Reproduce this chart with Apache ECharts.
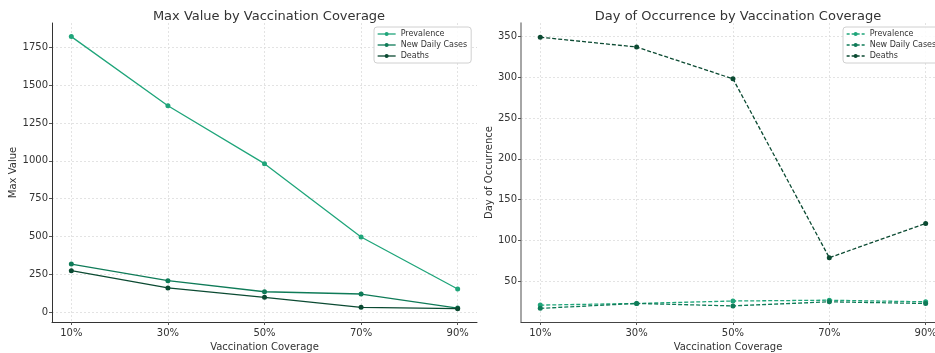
<!DOCTYPE html>
<html>
<head>
<meta charset="utf-8">
<script src="https://cdn.jsdelivr.net/npm/echarts@6/dist/echarts.min.js"></script>
<style>
html,body{margin:0;padding:0;background:#fff;}
#c{width:935px;height:353px;}
</style>
</head>
<body>
<div id="c"></div>
<script>
const categories = ['10%', '30%', '50%', '70%', '90%'];
const maxPrevalence = [1821, 1364, 981, 496, 152];
const maxNewCases = [317, 207, 134, 119, 26];
const maxDeaths = [273, 159, 97, 31, 22];
const dayPrevalence = [21, 23, 26, 27, 25];
const dayNewCases = [17, 23, 20, 25, 23];
const dayDeaths = [349, 337, 298, 79, 121];
const maxTicks = [0, 250, 500, 750, 1000, 1250, 1500, 1750];
const dayTicks = [50, 100, 150, 200, 250, 300, 350];
const seriesNames = ['Prevalence', 'New Daily Cases', 'Deaths'];

const colors = ['#1fa57a', '#0f7b58', '#0b4a32'];
const FONT = 'DejaVu Sans';
const catIdx = categories.map((_, i) => i);

function pairs(arr) { return arr.map((v, i) => [i, v]); }

function xAxis(gridIndex, lineColor, max) {
  return {
    type: 'value', gridIndex, min: -0.2, max,
    name: 'Vaccination Coverage', nameLocation: 'middle', nameGap: 19,
    nameTextStyle: { fontFamily: FONT, fontSize: 10, color: '#333' },
    axisLine: { show: true, onZero: false, lineStyle: { color: lineColor, width: 1 } },
    axisTick: { show: true, length: 3, customValues: catIdx, lineStyle: { color: '#555' } },
    axisLabel: { customValues: catIdx, fontFamily: FONT, fontSize: 10, color: '#333', margin: 6,
      formatter: v => categories[Math.round(v)] },
    splitLine: { show: true, lineStyle: { color: '#dcdcdc', type: [2, 2], width: 0.8 } }
  };
}
function yAxis(gridIndex, min, max, ticks, name, lineColor, lw, gap) {
  return {
    type: 'value', gridIndex, min, max,
    name, nameLocation: 'middle', nameGap: gap,
    nameTextStyle: { fontFamily: FONT, fontSize: 10, color: '#333' },
    axisLine: { show: true, onZero: false, lineStyle: { color: lineColor, width: lw } },
    axisTick: { show: true, length: 3, customValues: ticks, lineStyle: { color: '#555' } },
    axisLabel: { customValues: ticks, fontFamily: FONT, fontSize: 10, color: '#333', margin: 4,
      formatter: v => String(v) },
    splitLine: { show: true, lineStyle: { color: '#dcdcdc', type: [2, 2], width: 0.8 } }
  };
}
function mkSeries(name, arr, i, xi, dashed) {
  return {
    name, type: 'line', xAxisIndex: xi, yAxisIndex: xi, data: pairs(arr),
    symbol: 'circle', symbolSize: 5, color: colors[i],
    lineStyle: { width: 1.3, type: dashed ? [4, 2] : 'solid', color: colors[i] },
    itemStyle: { color: colors[i] }, animation: false, z: 3 + i
  };
}
function legend(left, dashed) {
  return {
    orient: 'vertical', left, top: 27,
    data: seriesNames.map((n, i) => ({
      name: n,
      lineStyle: { type: dashed ? [3, 2] : 'solid', color: colors[i], width: 1.3 },
      itemStyle: { color: colors[i] }
    })),
    itemWidth: 18, itemHeight: 5, itemGap: 3,
    padding: [3, 4, 3, 3],
    borderColor: '#d0d0d0', borderWidth: 1, borderRadius: 3,
    backgroundColor: 'rgba(255,255,255,0.85)',
    textStyle: { fontFamily: FONT, fontSize: 8, color: '#333' }
  };
}

const chart = echarts.init(document.getElementById('c'), null, { renderer: 'canvas' });
chart.setOption({
  animation: false,
  backgroundColor: '#fff',
  title: [
    { text: 'Max Value by Vaccination Coverage', left: 264, top: 5, textAlign: 'center',
      textStyle: { fontFamily: FONT, fontSize: 13, fontWeight: 'normal', color: '#333' } },
    { text: 'Day of Occurrence by Vaccination Coverage', left: 733, top: 5, textAlign: 'center',
      textStyle: { fontFamily: FONT, fontSize: 13, fontWeight: 'normal', color: '#333' } }
  ],
  grid: [
    { left: 52, top: 23, width: 425, bottom: 31, containLabel: false, outerBoundsMode: 'none' },
    { left: 521, top: 23, width: 414, bottom: 31, containLabel: false, outerBoundsMode: 'none' }
  ],
  legend: [legend(374, false), legend(843, true)],
  xAxis: [xAxis(0, '#333', 4.2), xAxis(1, '#444', 4.097)],
  yAxis: [
    yAxis(0, -66, 1911, maxTicks, 'Max Value', '#333', 1, 23),
    yAxis(1, 0.3, 366.4, dayTicks, 'Day of Occurrence', '#888', 1.5, 26)
  ],
  series: [
    mkSeries(seriesNames[0], maxPrevalence, 0, 0, false),
    mkSeries(seriesNames[1], maxNewCases, 1, 0, false),
    mkSeries(seriesNames[2], maxDeaths, 2, 0, false),
    mkSeries(seriesNames[0], dayPrevalence, 0, 1, true),
    mkSeries(seriesNames[1], dayNewCases, 1, 1, true),
    mkSeries(seriesNames[2], dayDeaths, 2, 1, true)
  ]
});
</script>
</body>
</html>
